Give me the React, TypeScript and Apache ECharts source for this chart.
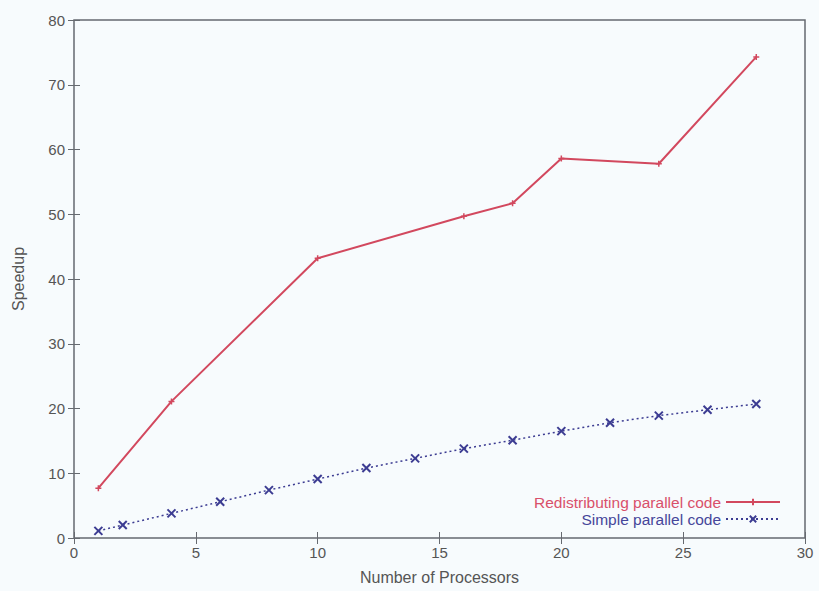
import React, { useEffect, useRef } from "react";
import * as echarts from "echarts";

// Speedup measurements per processor count
const redistProcs = [1, 4, 10, 16, 18, 20, 24, 28];
const redistSpeedup = [7.7, 21.1, 43.2, 49.7, 51.7, 58.6, 57.8, 74.3];

const simpleProcs = [1, 2, 4, 6, 8, 10, 12, 14, 16, 18, 20, 22, 24, 26, 28];
const simpleSpeedup = [1.1, 2.0, 3.8, 5.6, 7.4, 9.1, 10.8, 12.3, 13.8, 15.1, 16.5, 17.8, 18.9, 19.8, 20.7];

const seriesNames = ["Redistributing parallel code", "Simple parallel code"];
const RED = "#d2485e";
const BLUE = "#3c3c92";
const AXIS = "#666a70";
const TEXT = "#555";
const FONT = "Liberation Sans, Arial, Helvetica, sans-serif";

const pair = (xs: number[], ys: number[]) => xs.map((x, i) => [x, ys[i]]);

export default function App() {
  const ref = useRef<HTMLDivElement>(null);
  useEffect(() => {
    if (!ref.current) return;
    const chart = echarts.init(ref.current, undefined, { renderer: "svg" });
    const tick = { show: true, inside: true, length: 6, lineStyle: { color: AXIS, width: 1 } };
    const xBase = { type: "value", min: 0, max: 30, interval: 5, splitLine: { show: false } };
    const yBase = { type: "value", min: 0, max: 80, interval: 10, splitLine: { show: false } };
    chart.setOption({
      animation: false,
      backgroundColor: "#f7fbfd",
      textStyle: { fontFamily: FONT },
      grid: {
        left: 74,
        right: 14,
        top: 20,
        bottom: 53,
        show: true,
        borderColor: AXIS,
        borderWidth: 1.5,
        backgroundColor: "transparent",
      },
      xAxis: [
        {
          ...xBase,
          position: "bottom",
          name: "Number of Processors",
          nameLocation: "middle",
          nameGap: 31,
          nameTextStyle: { color: TEXT, fontSize: 16, fontFamily: FONT },
          axisLine: { show: false },
          axisTick: tick,
          axisLabel: { color: TEXT, fontSize: 15, margin: 7, fontFamily: FONT },
        },
        {
          ...xBase,
          position: "top",
          axisLine: { show: false },
          axisTick: tick,
          axisLabel: { show: false },
        },
      ],
      yAxis: [
        {
          ...yBase,
          position: "left",
          name: "Speedup",
          nameLocation: "middle",
          nameGap: 48,
          nameTextStyle: { color: TEXT, fontSize: 16, fontFamily: FONT },
          axisLine: { show: false },
          axisTick: tick,
          axisLabel: { color: TEXT, fontSize: 15, margin: 9, fontFamily: FONT },
        },
        {
          ...yBase,
          position: "right",
          axisLine: { show: false },
          axisTick: tick,
          axisLabel: { show: false },
        },
      ],
      legend: {
        orient: "vertical",
        right: 33,
        bottom: 59,
        align: "right",
        itemWidth: 54,
        itemHeight: 8,
        itemGap: 1,
        data: [
          { name: seriesNames[0], textStyle: { color: "#d9506a", fontSize: 15.5, fontFamily: FONT } },
          { name: seriesNames[1], textStyle: { color: "#46469a", fontSize: 15.5, fontFamily: FONT } },
        ],
      },
      series: [
        {
          name: seriesNames[0],
          type: "line",
          data: pair(redistProcs, redistSpeedup),
          symbol: "path://M5,0L5,10M0,5L10,5",
          symbolSize: 6,
          itemStyle: { color: RED, borderColor: RED, borderWidth: 1.5 },
          lineStyle: { color: RED, width: 2 },
        },
        {
          name: seriesNames[1],
          type: "line",
          data: pair(simpleProcs, simpleSpeedup),
          symbol: "path://M0,0L10,10M10,0L0,10",
          symbolSize: 8,
          itemStyle: { color: BLUE, borderColor: BLUE, borderWidth: 2 },
          lineStyle: { color: BLUE, width: 1.5, type: [2, 3] },
        },
      ],
    });
    return () => chart.dispose();
  }, []);
  return <div ref={ref} style={{ width: 819, height: 591, position: "absolute", left: 0, top: 0 }} />;
}
